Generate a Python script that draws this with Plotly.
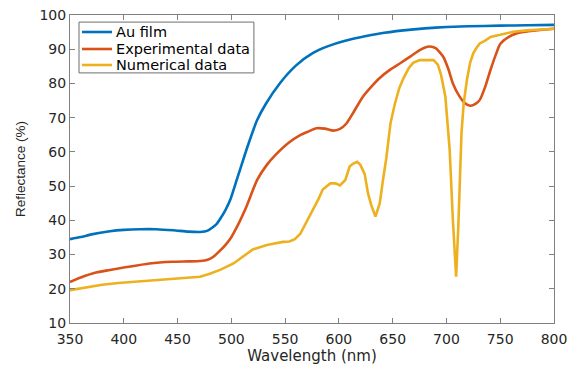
import plotly.graph_objects as go

wl_au = [350, 360, 370, 387, 400, 415, 430, 446, 460, 471, 478, 486, 490, 495, 499, 505, 508, 515, 524, 532, 545, 560, 576, 590, 605, 620, 638, 660, 680, 700, 720, 750, 775, 800]
r_au = [34.5, 35.1, 35.9, 36.8, 37.2, 37.4, 37.4, 37.1, 36.7, 36.6, 37.0, 38.8, 40.6, 43.3, 46.0, 51.8, 54.7, 61.5, 69.3, 74.0, 80.0, 85.2, 88.9, 90.9, 92.4, 93.5, 94.6, 95.5, 96.1, 96.5, 96.7, 96.9, 97.0, 97.1]

wl_exp = [350, 360, 375, 387, 400, 424, 445, 460, 471, 478, 483, 489, 494, 499, 503, 507, 514, 524, 533, 542, 553, 564, 572, 579, 587, 595, 601, 607, 614, 622, 630, 638, 648, 657, 667, 676, 684, 690, 697, 702, 706, 712, 717, 722, 727, 731, 736, 741, 746, 750, 758, 765, 775, 787, 800]
r_exp = [22.0, 23.3, 24.8, 25.5, 26.2, 27.4, 27.9, 28.0, 28.1, 28.5, 29.3, 31.0, 32.6, 34.6, 36.8, 39.2, 44.0, 51.8, 56.2, 59.4, 62.6, 64.9, 66.0, 66.9, 66.8, 66.2, 66.7, 68.3, 71.8, 76.0, 79.0, 81.6, 84.1, 85.9, 88.0, 89.9, 90.8, 90.3, 87.8, 84.0, 80.0, 76.3, 74.3, 73.5, 74.0, 75.2, 79.0, 84.0, 88.5, 91.5, 93.6, 94.6, 95.2, 95.6, 96.0]

wl_num = [350, 365, 380, 395, 409, 430, 450, 471, 480, 490, 502, 510, 520, 533, 541, 548, 554, 559, 564, 570, 576, 581, 585, 589, 592, 597, 601, 606, 610, 613, 617, 620, 624, 627, 630, 634, 638, 641, 644, 648, 652, 656, 660, 665, 669, 675, 681, 688, 692, 695, 699, 703, 706, 709, 711, 714, 716, 719, 722, 725, 728, 731, 736, 741, 750, 762, 775, 800]
r_num = [19.6, 20.5, 21.2, 21.7, 22.0, 22.5, 22.9, 23.5, 24.4, 25.6, 27.4, 29.3, 31.5, 32.8, 33.4, 33.7, 33.8, 34.5, 36.0, 39.5, 43.0, 46.2, 49.0, 50.2, 50.8, 50.8, 50.2, 51.8, 55.7, 56.5, 57.1, 56.2, 53.5, 48.0, 44.5, 41.1, 45.0, 51.8, 58.0, 68.4, 74.0, 78.5, 81.5, 84.5, 86.0, 86.8, 86.9, 86.8, 85.5, 82.5, 76.1, 60.6, 40.0, 23.5, 38.0, 65.5, 74.0, 81.0, 86.0, 88.9, 90.4, 91.7, 92.5, 93.6, 94.2, 95.1, 95.5, 96.0]

series_names = ["Au film", "Experimental data", "Numerical data"]
series_colors = ["#0072BD", "#D95319", "#EDB120"]

x_ticks = [350, 400, 450, 500, 550, 600, 650, 700, 750, 800]
y_ticks = [10, 20, 30, 40, 50, 60, 70, 80, 90, 100]

fig = go.Figure()
fig.add_trace(go.Scatter(x=wl_au, y=r_au, mode="lines", name=series_names[0],
                         line=dict(color=series_colors[0], width=2.6, shape="spline", smoothing=0.6)))
fig.add_trace(go.Scatter(x=wl_exp, y=r_exp, mode="lines", name=series_names[1],
                         line=dict(color=series_colors[1], width=2.6, shape="spline", smoothing=0.6)))
fig.add_trace(go.Scatter(x=wl_num, y=r_num, mode="lines", name=series_names[2],
                         line=dict(color=series_colors[2], width=2.6)))

axis_common = dict(
    showline=True, linecolor="#808080", linewidth=1, mirror="ticks",
    ticks="inside", ticklen=5, tickcolor="#808080", tickwidth=1,
    showgrid=False, zeroline=False, automargin=False,
    tickfont=dict(family="DejaVu Sans", size=14, color="#262626"),
)

# manual legend (MATLAB-style compact box)
shapes = [dict(type="rect", xref="paper", yref="paper", x0=0.0186, x1=0.380, y0=0.812, y1=0.977,
               line=dict(color="#6e6e6e", width=1), fillcolor="white", layer="above")]
annotations = []
row_y = [0.9448, 0.8896, 0.8377]
for name, color, yy in zip(series_names, series_colors, row_y):
    shapes.append(dict(type="line", xref="paper", yref="paper", x0=0.0248, x1=0.0868, y0=yy, y1=yy,
                       line=dict(color=color, width=2.6), layer="above"))
    annotations.append(dict(xref="paper", yref="paper", x=0.090, y=yy, xanchor="left", yanchor="middle",
                            text=name, showarrow=False,
                            font=dict(family="DejaVu Sans", size=14.5, color="#000000")))

fig.update_layout(
    width=569, height=367,
    margin=dict(l=70, r=15, t=15, b=44),
    paper_bgcolor="white", plot_bgcolor="white",
    font=dict(family="DejaVu Sans", color="#262626"),
    xaxis=dict(range=[350, 800], tickvals=x_ticks, ticklabelstandoff=3,
               title=dict(text="Wavelength (nm)", font=dict(family="DejaVu Sans", size=15, color="#262626"), standoff=0),
               **axis_common),
    yaxis=dict(range=[10, 100], tickvals=y_ticks,
               title=dict(text="Reflectance (%)", font=dict(family="Liberation Sans", size=13.5, color="#262626"), standoff=10),
               **axis_common),
    shapes=shapes,
    annotations=annotations,
    showlegend=False,
)

fig.write_html("out.html")
